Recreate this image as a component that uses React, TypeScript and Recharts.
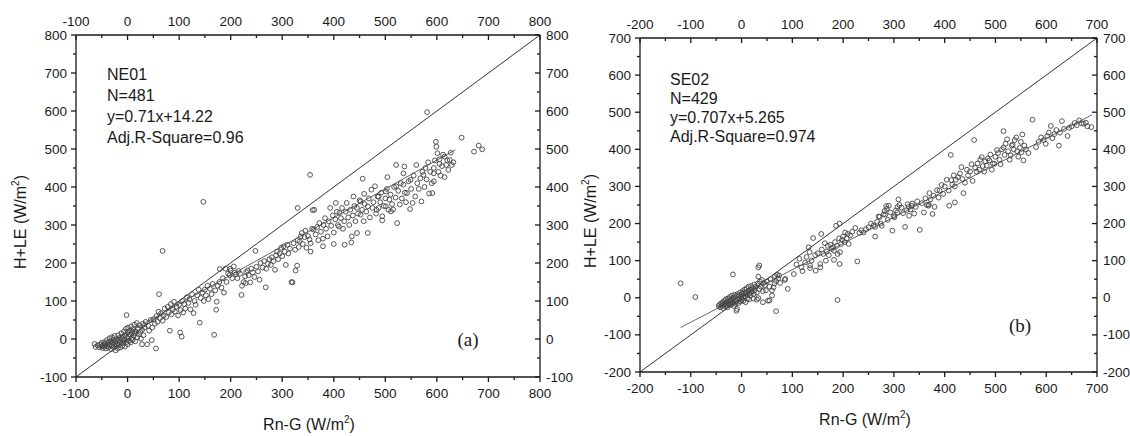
import React from 'react'
import { ReferenceLine, Scatter, ScatterChart, XAxis, YAxis } from 'recharts'

// tick values (every 50, labels on hundreds)
const neTicks = [-100, -50, 0, 50, 100, 150, 200, 250, 300, 350, 400, 450, 500, 550, 600, 650, 700, 750, 800]
const seTicks = [-200, -150, -100, -50, 0, 50, 100, 150, 200, 250, 300, 350, 400, 450, 500, 550, 600, 650, 700]

// NE01: [Rn-G, H+LE]
const ne01Points: [number, number][] = [
  [-64, -13], [-62, -21], [-58, -17], [-55, -22], [-53, -14], [-50, -19], [-50, -10], [-48, -24], [-47, -16], [-45, -20],
  [-45, -8], [-43, -13], [-42, -25], [-40, -18], [-40, -3], [-38, -10], [-37, -22], [-35, -15], [-35, 2], [-33, -6],
  [-32, -27], [-31, -18], [-30, -10], [-30, 5], [-28, -3], [-27, -22], [-26, -14], [-25, 8], [-24, -6], [-23, -30],
  [-22, -18], [-21, 0], [-20, -11], [-19, -25], [-18, 10], [-17, -4], [-16, -15], [-15, 3], [-14, -22], [-13, -8],
  [-12, 15], [-11, -1], [-10, -18], [-9, 6], [-8, -10], [-7, 20], [-6, -3], [-5, -20], [-4, 10], [-3, 27],
  [-2, -8], [-1, 3], [0, 17], [0, -14], [1, 30], [2, 6], [3, -5], [4, 22], [5, 12], [6, -9],
  [7, 33], [8, 2], [9, 18], [10, -3], [11, 26], [12, 9], [13, 38], [14, 15], [15, -6], [16, 20],
  [18, 42], [19, 4], [20, 28], [22, 12], [23, 36], [25, 18], [26, 1], [28, 24], [30, 40], [31, 10],
  [33, 30], [35, 45], [-2, 63], [28, -14], [38, -14], [47, -3], [55, -25], [40, 35], [42, 22], [45, 50],
  [48, 30], [50, 52], [53, 40], [56, 60], [58, 45], [60, 72], [61, 118], [63, 55], [65, 68], [68, 232],
  [68, 48], [70, 62], [72, 80], [75, 58], [78, 85], [80, 70], [82, 22], [84, 92], [85, 65], [88, 78],
  [90, 98], [92, 72], [95, 85], [98, 62], [100, 90], [102, 17], [103, 76], [105, 6], [106, 100], [108, 70],
  [110, 92], [112, 80], [115, 110], [118, 95], [120, 105], [122, 78], [125, 118], [128, 68], [130, 100], [132, 90],
  [135, 115], [138, 130], [140, 43], [142, 108], [145, 122], [147, 361], [148, 100], [150, 130], [152, 115], [155, 140],
  [157, 105], [160, 132], [163, 118], [165, 145], [168, 11], [170, 128], [172, 77], [173, 98], [175, 140], [178, 150],
  [179, 184], [182, 135], [185, 160], [187, 122], [190, 185], [192, 150], [195, 172], [198, 168], [199, 185], [200, 180],
  [203, 160], [206, 191], [208, 175], [210, 170], [213, 160], [215, 179], [218, 172], [221, 116], [222, 140], [225, 150],
  [228, 165], [229, 147], [230, 176], [233, 180], [235, 168], [238, 149], [240, 185], [243, 175], [246, 163], [248, 232],
  [250, 190], [253, 178], [256, 156], [258, 200], [262, 188], [265, 205], [268, 136], [269, 185], [272, 198], [275, 210],
  [278, 195], [280, 215], [283, 205], [286, 182], [288, 220], [290, 230], [292, 210], [295, 225], [298, 240], [300, 218],
  [303, 244], [305, 230], [307, 195], [310, 248], [312, 225], [315, 238], [318, 150], [320, 149], [322, 252], [325, 235],
  [326, 180], [329, 193], [330, 345], [330, 260], [332, 242], [334, 257], [336, 270], [338, 279], [340, 250], [343, 268],
  [345, 285], [347, 240], [350, 271], [353, 262], [354, 432], [355, 252], [355, 230], [358, 290], [359, 339], [361, 288],
  [362, 340], [365, 275], [368, 295], [370, 260], [372, 305], [375, 282], [379, 244], [379, 264], [380, 300], [383, 318],
  [385, 290], [388, 270], [390, 310], [393, 345], [395, 298], [398, 325], [400, 250], [400, 280], [403, 315], [404, 358],
  [406, 335], [408, 300], [410, 296], [411, 332], [414, 318], [416, 345], [418, 290], [420, 310], [421, 248], [423, 335],
  [425, 358], [428, 320], [430, 300], [432, 340], [434, 254], [435, 270], [437, 325], [438, 375], [440, 350], [442, 310],
  [445, 279], [445, 345], [447, 330], [450, 365], [452, 327], [452, 362], [455, 340], [456, 422], [458, 310], [459, 382],
  [460, 355], [463, 335], [466, 279], [466, 349], [468, 370], [470, 320], [473, 393], [475, 345], [477, 360], [480, 402],
  [482, 330], [483, 340], [485, 375], [487, 345], [487, 375], [490, 360], [492, 385], [494, 312], [494, 323], [497, 350],
  [500, 370], [501, 349], [501, 388], [503, 395], [504, 426], [506, 340], [508, 367], [510, 380], [511, 336], [513, 355],
  [515, 341], [517, 400], [520, 372], [521, 402], [521, 458], [523, 305], [525, 390], [528, 354], [530, 410], [532, 370],
  [535, 406], [535, 436], [537, 454], [538, 385], [540, 360], [542, 384], [545, 415], [548, 342], [549, 419], [550, 395],
  [553, 358], [555, 430], [558, 375], [560, 458], [562, 410], [565, 395], [568, 423], [570, 362], [572, 440], [574, 432],
  [576, 400], [578, 450], [580, 420], [581, 597], [583, 465], [585, 383], [587, 440], [590, 410], [591, 384], [594, 450],
  [594, 436], [594, 415], [596, 470], [598, 519], [599, 506], [601, 489], [603, 440], [605, 473], [605, 461], [607, 430],
  [610, 455], [612, 485], [615, 480], [615, 426], [618, 458], [620, 470], [622, 445], [625, 471], [627, 490], [629, 458],
  [632, 465], [648, 530], [672, 493], [681, 509], [688, 499],
]

// SE02: [Rn-G, H+LE]
const se02Points: [number, number][] = [
  [-120, 39], [-91, 2], [-45, -22], [-43, -18], [-42, -26], [-40, -15], [-39, -22], [-37, -12], [-36, -28], [-35, -18],
  [-34, -8], [-33, -22], [-32, -14], [-31, -4], [-30, -20], [-29, -10], [-28, -26], [-27, -2], [-26, -16], [-25, -8],
  [-24, -20], [-23, 2], [-22, -12], [-21, -4], [-20, -18], [-19, 6], [-18, -8], [-17, 63], [-17, -14], [-16, 0],
  [-15, -22], [-14, 8], [-13, -6], [-12, -16], [-11, 4], [-10, -35], [-10, -10], [-9, -30], [-8, 10], [-7, -4],
  [-6, -14], [-5, 6], [-4, -2], [-3, 14], [-2, -10], [-1, 2], [0, -6], [1, 10], [2, 18], [3, 0],
  [4, -8], [5, 14], [6, 22], [7, 4], [8, -12], [9, 12], [10, 26], [11, -2], [12, 8], [13, 18],
  [14, 30], [15, -4], [16, 12], [17, 22], [18, 6], [19, 32], [20, 16], [22, 26], [23, -2], [24, 10],
  [25, 36], [26, 20], [28, 30], [30, -5], [30, 14], [32, 38], [33, -1], [33, 57], [33, 82], [35, 87],
  [35, 24], [36, 44], [38, 30], [40, 48], [42, -12], [42, 18], [44, 40], [46, 34], [48, 20], [50, 44],
  [52, -8], [55, -7], [55, 30], [57, 50], [60, 20], [60, 6], [63, 28], [65, 39], [66, 58], [68, -36],
  [68, 45], [70, 62], [72, 52], [74, 60], [76, 40], [85, 48], [86, 51], [91, 24], [103, 64], [108, 90],
  [114, 105], [118, 82], [120, 72], [125, 95], [128, 110], [132, 136], [134, 123], [135, 87], [135, 80], [138, 100],
  [141, 161], [145, 115], [146, 73], [150, 120], [155, 82], [155, 91], [157, 172], [158, 130], [161, 118], [164, 147],
  [166, 100], [168, 125], [170, 140], [172, 115], [175, 143], [178, 132], [180, 136], [182, 102], [182, 127], [184, 150],
  [186, 194], [188, 140], [189, -6], [189, 118], [192, 160], [193, 91], [193, 200], [194, 123], [196, 145], [198, 156],
  [200, 165], [203, 150], [204, 176], [207, 160], [209, 172], [211, 145], [214, 168], [218, 178], [224, 188], [228, 98],
  [232, 175], [236, 182], [240, 176], [245, 185], [250, 190], [255, 200], [260, 195], [263, 165], [263, 191], [267, 205],
  [270, 219], [272, 218], [274, 200], [276, 194], [280, 225], [282, 234], [283, 224], [285, 247], [286, 240], [288, 210],
  [290, 248], [293, 230], [297, 181], [300, 220], [301, 217], [304, 235], [307, 230], [307, 245], [309, 265], [311, 250],
  [315, 243], [318, 228], [322, 191], [325, 236], [327, 252], [329, 245], [330, 221], [333, 238], [335, 248], [336, 254],
  [340, 227], [343, 245], [346, 260], [351, 183], [355, 255], [359, 230], [362, 268], [365, 250], [368, 248], [369, 251],
  [370, 282], [372, 265], [376, 226], [378, 275], [380, 245], [385, 290], [388, 270], [390, 289], [394, 304], [397, 280],
  [400, 300], [404, 318], [408, 289], [409, 248], [412, 385], [413, 317], [415, 305], [418, 330], [420, 257], [420, 300],
  [422, 318], [426, 325], [430, 335], [433, 352], [435, 320], [437, 282], [440, 310], [444, 345], [446, 330], [450, 340],
  [453, 360], [455, 315], [458, 425], [460, 350], [463, 340], [465, 362], [468, 345], [470, 372], [473, 379], [475, 355],
  [478, 340], [480, 368], [483, 356], [485, 375], [488, 370], [490, 386], [493, 345], [495, 362], [498, 361], [500, 380],
  [503, 398], [505, 390], [508, 372], [510, 360], [513, 400], [516, 405], [516, 449], [518, 385], [520, 415], [523, 427],
  [525, 395], [528, 372], [530, 384], [532, 410], [534, 413], [536, 400], [538, 425], [541, 432], [543, 395], [545, 380],
  [548, 404], [550, 420], [551, 392], [553, 440], [555, 370], [557, 410], [560, 400], [565, 390], [573, 480], [580, 406],
  [585, 420], [590, 432], [595, 425], [599, 415], [602, 436], [605, 445], [609, 463], [612, 430], [616, 441], [620, 452],
  [625, 410], [627, 445], [631, 476], [635, 455], [642, 436], [645, 458], [650, 462], [656, 471], [660, 465], [665, 478],
  [670, 470], [674, 469], [678, 472], [681, 462], [689, 460],
]

// fitted line end points and 1:1 line
const neFit: [number, number][] = [[-55, -25], [636, 498]]
const neOneToOne: [number, number][] = [[-100, -100], [800, 800]]
const seFit: [number, number][] = [[-120, -80], [690, 493]]
const seOneToOne: [number, number][] = [[-200, -200], [700, 700]]

const neInfo = ['NE01', 'N=481', 'y=0.71x+14.22', 'Adj.R-Square=0.96']
const seInfo = ['SE02', 'N=429', 'y=0.707x+5.265', 'Adj.R-Square=0.974']

const FONT = "Arial, 'Liberation Sans', sans-serif"
const INK = '#1a1a1a'

const toXY = (pts: [number, number][]) => pts.map(([x, y]) => ({ x, y }))

const makeTick = (side: 'top' | 'bottom' | 'left' | 'right') => (props: any) => {
  const { x, y, payload } = props
  const v = payload.value
  const major = v % 100 === 0
  const len = major ? 5 : 3
  let line = null
  let label = null
  if (side === 'bottom') {
    line = <line x1={x} y1={y} x2={x} y2={y + len} stroke={INK} strokeWidth={1.3} />
    label = <text x={x} y={y + 21} textAnchor="middle">{v}</text>
  } else if (side === 'top') {
    line = <line x1={x} y1={y} x2={x} y2={y + len} stroke={INK} strokeWidth={1.3} />
    label = <text x={x} y={y - 9} textAnchor="middle">{v}</text>
  } else if (side === 'left') {
    line = <line x1={x} y1={y} x2={x - len} y2={y} stroke={INK} strokeWidth={1.3} />
    label = <text x={x - 9} y={y + 4.5} textAnchor="end">{v}</text>
  } else {
    line = <line x1={x} y1={y} x2={x - len} y2={y} stroke={INK} strokeWidth={1.3} />
    label = <text x={x + 6} y={y + 4.5} textAnchor="start">{v}</text>
  }
  return (
    <g>
      {line}
      {major && (
        <g fontFamily={FONT} fontSize={13.5} fill={INK}>
          {label}
        </g>
      )}
    </g>
  )
}

const circle = (p: any) => <circle cx={p.cx} cy={p.cy} r={2.4} fill="none" stroke="#444" strokeWidth={0.9} />

function Panel({ left, width, top, bottom, yLeft, yRight, ticks, domain, points, fit, diag }: any) {
  const axisLine = { stroke: INK, strokeWidth: 1.3 }
  const common = { type: 'number' as const, domain, ticks, interval: 0, tickSize: 0, tickMargin: 0, tickLine: false, axisLine, allowDataOverflow: true }
  return (
    <div style={{ position: 'absolute', left, top: 0 }}>
      <ScatterChart width={width} height={436} margin={{ top: 0, right: 0, bottom: 0, left: 0 }}>
        <XAxis xAxisId="b" dataKey="x" orientation="bottom" height={bottom} tick={makeTick('bottom')} {...common} />
        <XAxis xAxisId="t" dataKey="x" orientation="top" height={top} tick={makeTick('top')} {...common} />
        <YAxis yAxisId="l" dataKey="y" orientation="left" width={yLeft} tick={makeTick('left')} {...common} />
        <YAxis yAxisId="r" dataKey="y" orientation="right" width={yRight} tick={makeTick('right')} {...common} />
        <ReferenceLine xAxisId="b" yAxisId="l" segment={toXY(diag)} stroke="#333" strokeWidth={1} />
        <ReferenceLine xAxisId="b" yAxisId="l" segment={toXY(fit)} stroke="#666" strokeWidth={1} />
        <Scatter xAxisId="b" yAxisId="l" data={toXY(points)} shape={circle} isAnimationActive={false} />
        <Scatter xAxisId="t" yAxisId="r" data={[]} isAnimationActive={false} />
      </ScatterChart>
    </div>
  )
}

function Labels() {
  const sup = (
    <>
      <tspan>(W/m</tspan>
      <tspan fontSize={10} dy={-7}>2</tspan>
      <tspan dy={7}>)</tspan>
    </>
  )
  return (
    <svg width={1130} height={436} style={{ position: 'absolute', left: 0, top: 0, pointerEvents: 'none' }} fontFamily={FONT} fill={INK}>
      <g fontSize={16}>
        {neInfo.map((t, i) => (
          <text key={t} x={107} y={80 + i * 21}>{t}</text>
        ))}
        {seInfo.map((t, i) => (
          <text key={t} x={670} y={85 + i * 19}>{t}</text>
        ))}
        <text x={309} y={430} textAnchor="middle">Rn-G {sup}</text>
        <text x={865} y={425} textAnchor="middle">Rn-G {sup}</text>
        <text transform="translate(26,222) rotate(-90)" textAnchor="middle">H+LE {sup}</text>
        <text transform="translate(596,221) rotate(-90)" textAnchor="middle">H+LE {sup}</text>
      </g>
      <g fontFamily="'Liberation Serif', 'Times New Roman', serif" fontSize={19}>
        <text x={468} y={346} textAnchor="middle">(a)</text>
        <text x={1020} y={332} textAnchor="middle">(b)</text>
      </g>
    </svg>
  )
}

export default function App() {
  return (
    <div style={{ position: 'absolute', left: 0, top: 0, width: 1130, height: 436, background: '#fff' }}>
      <Panel left={0} width={590} top={35} bottom={59} yLeft={76} yRight={50} ticks={neTicks} domain={[-100, 800]}
        points={ne01Points} fit={neFit} diag={neOneToOne} />
      <Panel left={565} width={565} top={38} bottom={64} yLeft={75} yRight={33} ticks={seTicks} domain={[-200, 700]}
        points={se02Points} fit={seFit} diag={seOneToOne} />
      <Labels />
    </div>
  )
}
